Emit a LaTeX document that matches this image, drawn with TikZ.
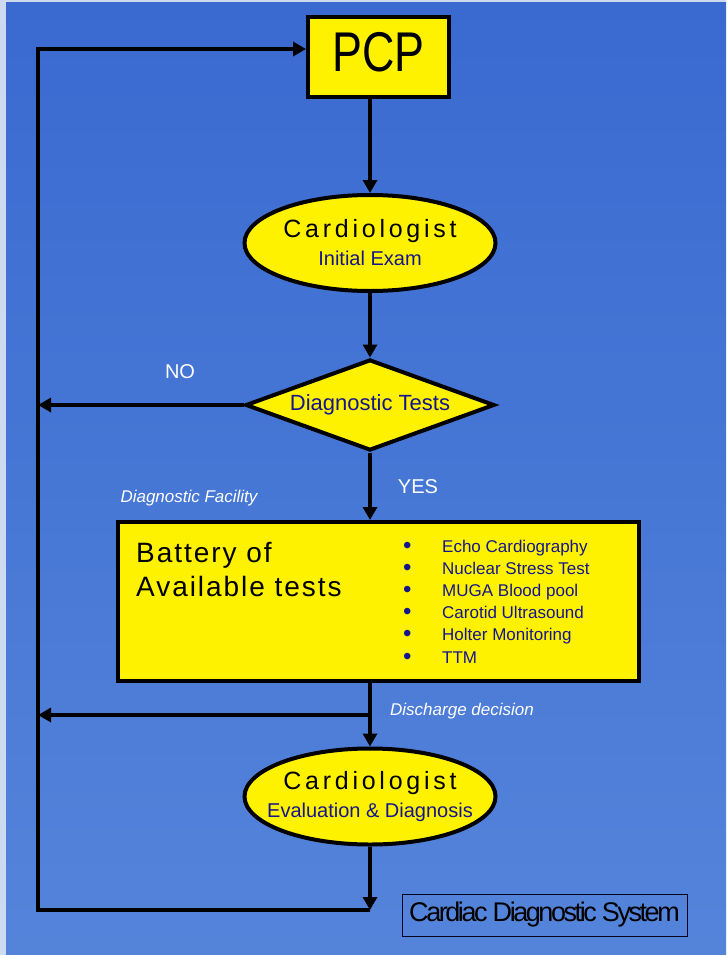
\documentclass[tikz,border=0pt]{standalone}
\usepackage{fontspec}
\setmainfont{Liberation Sans}
\newfontfamily\spacedfont[LetterSpace=15]{Liberation Sans}
\newfontfamily\widefont[LetterSpace=7]{Liberation Sans}
\newfontfamily\tightfont[LetterSpace=-9]{Liberation Sans}
\usetikzlibrary{shapes.geometric}
\usetikzlibrary{arrows.meta}
\usetikzlibrary{positioning}
\definecolor{slidetop}{RGB}{58,106,208}
\definecolor{slidebottom}{RGB}{84,132,218}
\definecolor{slideedge}{RGB}{205,218,240}
\definecolor{navytext}{RGB}{22,22,140}
\newcommand{\listdot}{\makebox[39pt][l]{\raisebox{-1pt}{\fontsize{24}{20}\selectfont\textbullet}}}
\tikzset{
	% yellow chart shapes: box, oval and decision
	chart box/.style={rectangle,draw=black,line width=4pt,fill=yellow,inner sep=0pt},
	chart oval/.style={ellipse,draw=black,line width=4pt,fill=yellow,inner sep=0pt,
		minimum width=251pt,minimum height=96pt},
	oval text/.style={inner sep=0pt,align=center,font=\fontsize{20}{28}\selectfont},
	chart test/.style={diamond,draw=black,line width=4pt,fill=yellow,inner sep=0pt,aspect=2.66,
		minimum width=249pt,minimum height=91pt,text=navytext,font=\fontsize{22}{26}\selectfont},
	% connectors
	flow/.style={line width=4.5pt,-{Triangle[length=13pt,width=14pt]}},
	plain flow/.style={line width=4.5pt,line join=miter},
	% white notes on the slide
	white note/.style={text=white,inner sep=0pt,font=\fontsize{20}{24}\selectfont},
	italic note/.style={text=white,inner sep=0pt,font=\fontsize{17}{20}\selectfont\itshape}
}

\begin{document}
\begin{tikzpicture}[x=1pt,y=-1pt]
\useasboundingbox (0,0) rectangle (726,955);

% slide background
\fill[slideedge] (0,0) rectangle (726,955);
\shade[top color=slidetop,bottom color=slidebottom] (6,3) rectangle (726,955);

% PCP box
\node(pcp)[chart box,minimum width=141pt,minimum height=80pt,text depth=10pt] at (378.5,57)
	{\scalebox{0.8}[1]{\fontsize{56}{56}\selectfont PCP}};
% cardiologist, first exam
\node(exam)[chart oval] at (370,243) {};
\node(exam text)[oval text] at (exam)
	{{\spacedfont\fontsize{25}{28}\selectfont Cardiologist}\\{\color{navytext}Initial Exam}};
% decision
\node(tests)[chart test] at (370,405) {Diagnostic Tests};
% battery of tests
\node(battery)[chart box,minimum width=521pt,minimum height=159pt] at (378.5,601.5) {};
\node(battery title)[anchor=north west,inner sep=0pt,align=left,
	font=\widefont\fontsize{28}{34}\selectfont] at ([shift={(20,22.5)}]battery.north west)
	{Battery of\\Available tests};
\node(battery list)[anchor=north west,inner sep=0pt,align=left,text=navytext,
	font=\fontsize{17}{22.2}\selectfont] at (403,539.6)
	{\listdot Echo Cardiography\\
	 \listdot Nuclear Stress Test\\
	 \listdot MUGA Blood pool\\
	 \listdot Carotid Ultrasound\\
	 \listdot Holter Monitoring\\
	 \listdot TTM};
% cardiologist, evaluation
\node(diag)[chart oval] at (370,796.5) {};
\node(diag text)[oval text] at (diag)
	{{\spacedfont\fontsize{25}{28}\selectfont Cardiologist}\\{\color{navytext}Evaluation \& Diagnosis}};
% caption
\node(caption)[draw=black!80!navytext,line width=0.8pt,minimum width=285pt,minimum height=42pt,
	inner sep=0pt,font=\tightfont\fontsize{27}{30}\selectfont] at (544.5,915)
	{Cardiac Diagnostic System};

% notes
\node(no)[white note] at (180,372) {NO};
\node(yes)[white note] at (418,487) {YES};
\node(facility)[italic note] at (189,498) {Diagnostic Facility};
\node(discharge note)[italic note] at (462,711) {Discharge decision};

% loop corners and branch points
\coordinate(loop tl) at (38,49);
\coordinate(loop bl) at (38,910);
\coordinate(loop end) at (370,910);
\coordinate(discharge) at (370,715);

% connectors
\draw[flow] (pcp.south -| exam.north) -- (exam.north);
\draw[flow] (exam.south) -- (tests.north);
\draw[flow] (tests.west) -- (tests.west -| loop tl);
\draw[flow] (tests.south) -- (tests.south |- battery.north);
\draw[plain flow] (battery.south -| diag.north) -- (discharge);
\draw[flow] (discharge) -- (diag.north);
\draw[flow] (discharge) -- (discharge -| loop tl);
\draw[flow] (diag.south) -- (loop end);
\draw[plain flow,-{Triangle[length=13pt,width=14pt]}] (loop end) -- (loop bl) -- (loop tl) -- (loop tl -| pcp.west);

\end{tikzpicture}
\end{document}
